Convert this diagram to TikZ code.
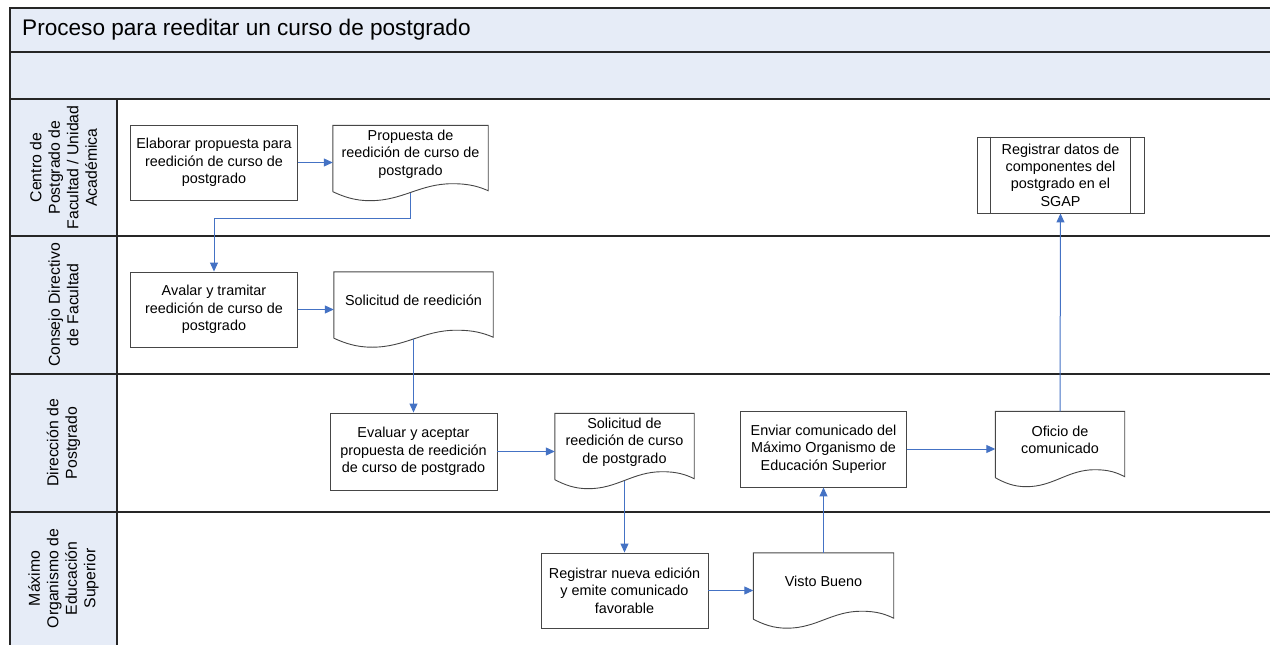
\documentclass[tikz,border=0pt]{standalone}
\usepackage{fontspec}
\setmainfont{Liberation Sans}
\usetikzlibrary{calc,arrows.meta}

\definecolor{lanefill}{RGB}{230,236,247}
\definecolor{flowblue}{RGB}{68,114,196}
\definecolor{boxline}{RGB}{70,70,70}

\tikzstyle{proc} = [draw=boxline, line width=0.9pt, fill=white, minimum width=167pt, minimum height=75pt, align=center, inner sep=0pt, font=\fontsize{14.4}{17.3}\selectfont]
\tikzstyle{doc} = [minimum height=57pt, align=center, inner sep=0pt, font=\fontsize{14.4}{17.3}\selectfont]
\tikzstyle{lane} = [rotate=90, align=center, inner sep=0pt, font=\fontsize{15.8}{18.5}\selectfont]
\tikzstyle{frame} = [line width=1.6pt, draw=black!85]
\tikzstyle{flow} = [draw=flowblue, line width=1pt, -{Triangle[length=9pt,width=8pt]}]

% document outline with wavy bottom
\newcommand{\docwave}[1]{%
\draw[draw=boxline, line width=0.9pt]
 ([yshift=-9pt]#1.south west) -- (#1.north west) -- (#1.north east) -- ([yshift=-8pt]#1.south east)
 .. controls ([yshift=-4pt]$(#1.south west)!0.94!(#1.south east)$) and ([yshift=-1pt]$(#1.south west)!0.88!(#1.south east)$) .. ([yshift=-1pt]$(#1.south west)!0.77!(#1.south east)$)
 .. controls ([yshift=-1pt]$(#1.south west)!0.56!(#1.south east)$) and ([yshift=-18pt]$(#1.south west)!0.45!(#1.south east)$) .. ([yshift=-18pt]$(#1.south west)!0.24!(#1.south east)$)
 .. controls ([yshift=-18pt]$(#1.south west)!0.14!(#1.south east)$) and ([yshift=-14pt]$(#1.south west)!0.07!(#1.south east)$) .. ([yshift=-9pt]#1.south west);
}

\begin{document}
\begin{tikzpicture}[x=1pt, y=-1pt]
\useasboundingbox (0,0) rectangle (1270,645);
\clip (0,0) rectangle (1270,645);

% bands and lanes
\fill[lanefill] (10,8) rectangle (1270,99);
\fill[lanefill] (10,99) rectangle (117,650);
\draw[frame] (1270,8) -- (10,8) -- (10,650);
\draw[frame] (10,52) -- (1270,52);
\draw[frame] (10,99) -- (1270,99);
\foreach \y in {236,374,512} {%
 \draw[frame] (10,\y) -- (1270,\y);
}
\draw[frame] (117,99) -- (117,650);

\node[anchor=west, inner sep=0pt, font=\fontsize{22.6}{27}\selectfont] (title) at (22,30) {Proceso para reeditar un curso de postgrado};

\node[lane] (lane1) at (63.5,167.5) {Centro de\\Postgrado de\\Facultad / Unidad\\Académica};
\node[lane] (lane2) at (63.5,305) {Consejo Directivo\\de Facultad};
\node[lane] (lane3) at (63.5,443) {Dirección de\\Postgrado};
\node[lane] (lane4) at (63.5,578.5) {Máximo\\Organismo de\\Educación\\Superior};

%CENTRO DE POSTGRADO
\node[proc] (elab) at (214,162.5) {Elaborar propuesta para\\reedición de curso de\\postgrado};
\node[doc, minimum width=155pt] (prop) at (410.5,154) {Propuesta de\\reedición de curso de\\postgrado};
\docwave{prop}
\node[proc, minimum height=76pt] (regdat) at (1060.5,175) {Registrar datos de\\componentes del\\postgrado en el\\SGAP};
\draw[draw=boxline, line width=0.9pt] ([xshift=14pt]regdat.north west) -- ([xshift=14pt]regdat.south west);
\draw[draw=boxline, line width=0.9pt] ([xshift=-14pt]regdat.north east) -- ([xshift=-14pt]regdat.south east);

%CONSEJO DIRECTIVO
\node[proc] (aval) at (214,309.5) {Avalar y tramitar\\reedición de curso de\\postgrado};
\node[doc, minimum width=159pt] (sol) at (413.5,300.5) {Solicitud de reedición};
\docwave{sol}

%DIRECCION DE POSTGRADO
\node[proc, minimum height=77pt] (eval) at (413.5,451.5) {Evaluar y aceptar\\propuesta de reedición\\de curso de postgrado};
\node[doc, minimum width=139pt] (solc) at (624.5,442) {Solicitud de\\reedición de curso\\de postgrado};
\docwave{solc}
\node[proc, minimum width=166pt, minimum height=76pt] (env) at (823.5,449) {Enviar comunicado del\\Máximo Organismo de\\Educación Superior};
\node[doc, minimum width=129pt] (ofi) at (1060,440) {Oficio de\\comunicado};
\docwave{ofi}

%MAXIMO ORGANISMO
\node[proc] (regnue) at (624.5,590.5) {Registrar nueva edición\\y emite comunicado\\favorable};
\node[doc, minimum width=140pt] (visto) at (823.5,581.5) {Visto Bueno};
\docwave{visto}

% flows
\draw[flow] (elab.east) -- (elab.east -| prop.west);
\draw[flow] ([yshift=-10pt]prop.south) -- ++(0,26) -| (aval.north);
\draw[flow] (aval.east) -- (aval.east -| sol.west);
\draw[flow] ([yshift=-10pt]sol.south) -- (eval.north);
\draw[flow] (eval.east) -- (eval.east -| solc.west);
\draw[flow] ([yshift=-10pt]solc.south) -- (regnue.north);
\draw[flow] (regnue.east) -- (regnue.east -| visto.west);
\draw[flow] (visto.north) -- (env.south);
\draw[flow] (env.east) -- (env.east -| ofi.west);
\draw[flow] (ofi.north) -- (regdat.south);

\end{tikzpicture}
\end{document}
